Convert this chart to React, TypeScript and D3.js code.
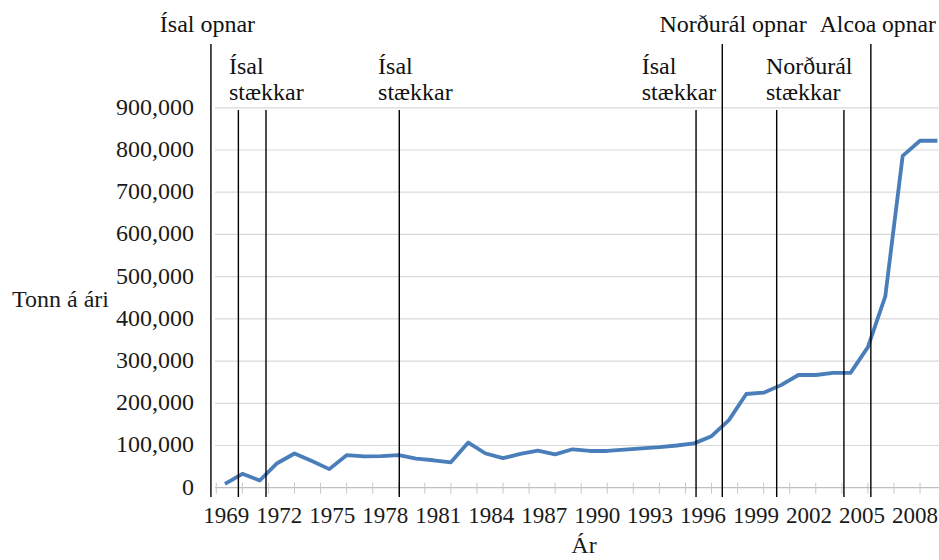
import React from "react";
import * as d3 from "d3";

const years = [
  1969, 1970, 1971, 1972, 1973, 1974, 1975, 1976, 1977, 1978, 1979, 1980, 1981, 1982,
  1983, 1984, 1985, 1986, 1987, 1988, 1989, 1990, 1991, 1992, 1993, 1994, 1995, 1996,
  1997, 1998, 1999, 2000, 2001, 2002, 2003, 2004, 2005, 2006, 2007, 2008, 2009, 2010,
];
const tonnes = [
  9000, 33000, 17000, 58000, 81000, 63000, 44000, 77000, 74000, 75000, 77000, 69000, 65000, 60000,
  107000, 81000, 70000, 80000, 88000, 79000, 91000, 87000, 87000, 90000, 93000, 96000, 100000, 105000,
  122000, 160000, 222000, 225000, 243000, 267000, 267000, 272000, 272000, 333000, 453000, 786000, 822000, 822000,
];
const yTicks = [0, 100000, 200000, 300000, 400000, 500000, 600000, 700000, 800000, 900000];
const xLabels = [1969, 1972, 1975, 1978, 1981, 1984, 1987, 1990, 1993, 1996, 1999, 2002, 2005, 2008];

// Event markers (position on the year axis, as drawn)
const eventPos = [1968.19, 1969.77, 1971.36, 1979.03, 1996.11, 1997.62, 2000.75, 2004.62, 2006.17];
const eventTall = [true, false, false, false, false, true, false, false, true];

// Annotation texts
const topLabels = ["Ísal opnar", "Norðurál opnar", "Alcoa opnar"];
const topLabelPos = [1967.99, 1998.24, 2006.57];
const twoLineLabels = [
  ["Ísal", "stækkar"],
  ["Ísal", "stækkar"],
  ["Ísal", "stækkar"],
  ["Norðurál", "stækkar"],
];
const twoLineLabelPos = [1969.23, 1977.81, 1992.98, 2000.13];

const FONT = '"Liberation Serif", Tinos, "DejaVu Serif", serif';

export default function App() {
  const W = 939;
  const H = 560;
  const plotLeft = 215;
  const plotRight = 939;

  const x = d3.scaleLinear().domain([1969, 2010]).range([225, 937.4]);
  const xLab = d3.scaleLinear().domain([1969, 2008]).range([226.3, 915]);
  const y = d3.scaleLinear().domain([0, 900000]).range([487.7, 107.8]);

  const line = d3
    .line<number>()
    .x((_, i) => x(years[i]))
    .y((d) => y(d));

  const fmt = d3.format(",");
  const tickYears = d3.range(0, 28).map((k) => 1968.5 + 1.5 * k);
  const ts = { fontFamily: FONT } as React.CSSProperties;

  return (
    <svg
      width={W}
      height={H}
      style={{ position: "absolute", left: 0, top: 0, background: "#fff", fontFamily: FONT }}
    >
      <rect x={0} y={0} width={W} height={H} fill="#fff" />
      {yTicks.slice(1).map((t) => (
        <line key={t} x1={plotLeft} x2={plotRight} y1={y(t)} y2={y(t)} stroke="#d9d9d9" strokeWidth={1.2} />
      ))}
      <line x1={plotLeft} x2={plotRight} y1={y(0)} y2={y(0)} stroke="#bfbfbf" strokeWidth={1.2} />
      {tickYears.map((t, i) => (
        <line key={i} x1={x(t)} x2={x(t)} y1={y(0) - 5} y2={y(0) + 6} stroke="#c8c8c8" strokeWidth={1} />
      ))}
      {yTicks.map((t) => (
        <text key={t} x={194} y={y(t) + 7} textAnchor="end" fontSize={24} fill="#1a1a1a" style={ts}>
          {fmt(t)}
        </text>
      ))}
      <text x={12} y={307} fontSize={24} fill="#1a1a1a" style={ts}>
        Tonn á ári
      </text>
      {xLabels.map((t) => (
        <text key={t} x={xLab(t)} y={523} textAnchor="middle" fontSize={23} fill="#1a1a1a" style={ts}>
          {t}
        </text>
      ))}
      <text x={584} y={553} textAnchor="middle" fontSize={24} fill="#1a1a1a" style={ts}>
        Ár
      </text>
      <path d={line(tonnes) || ""} fill="none" stroke="#4a7ebb" strokeWidth={3.8} strokeLinejoin="round" />
      {eventPos.map((p, i) => (
        <line
          key={i}
          x1={x(p)}
          x2={x(p)}
          y1={eventTall[i] ? 44 : 110}
          y2={497}
          stroke="#000"
          strokeWidth={1.4}
        />
      ))}
      {topLabels.map((t, i) =>
        i === 2 ? (
          <text
            key={t}
            x={x(topLabelPos[i])}
            y={32}
            textAnchor="middle"
            fontSize={24}
            textLength={116}
            lengthAdjust="spacingAndGlyphs"
            fill="#111"
            style={ts}
          >
            {t}
          </text>
        ) : (
          <text key={t} x={x(topLabelPos[i])} y={32} textAnchor="middle" fontSize={24} fill="#111" style={ts}>
            {t}
          </text>
        )
      )}
      {twoLineLabels.map((ls, i) => (
        <g key={i}>
          <text x={x(twoLineLabelPos[i])} y={74} fontSize={24} fill="#111" style={ts}>
            {ls[0]}
          </text>
          <text x={x(twoLineLabelPos[i])} y={100} fontSize={24} fill="#111" style={ts}>
            {ls[1]}
          </text>
        </g>
      ))}
    </svg>
  );
}
